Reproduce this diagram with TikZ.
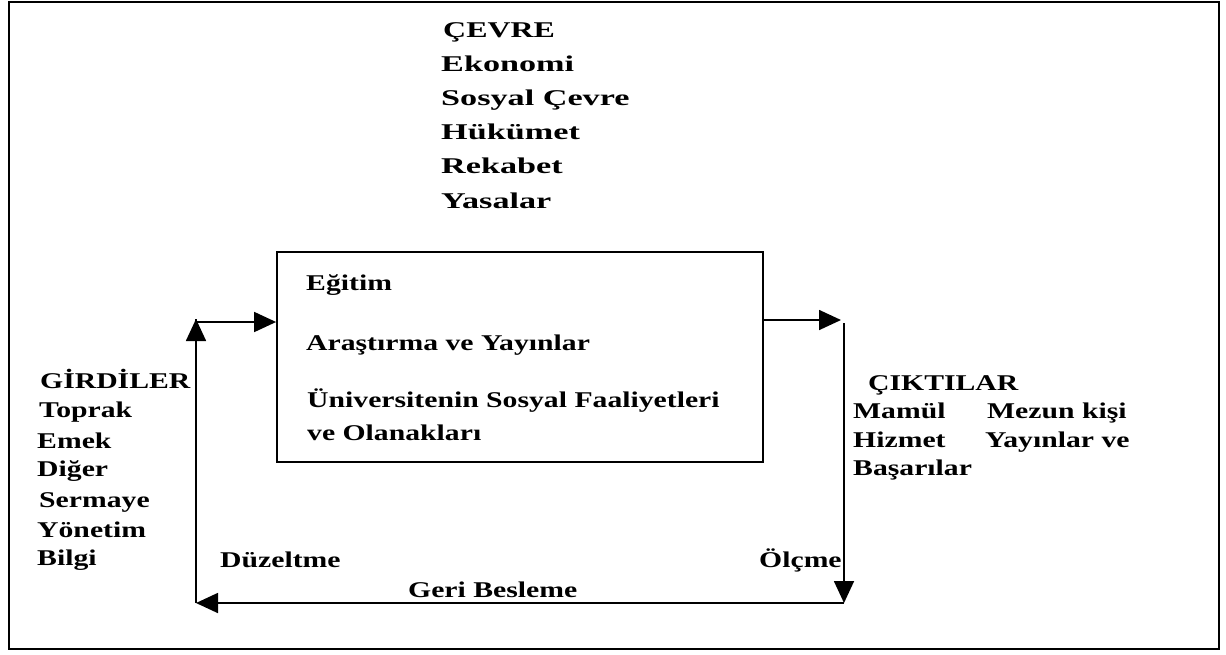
\documentclass[tikz,border=0pt]{standalone}
\usepackage{fontspec}
\usetikzlibrary{arrows.meta}
% Bold serif faces, widened to the look of the labels
\newfontfamily\lblfont{Liberation Serif}[FakeStretch=1.32]
\newfontfamily\envfont{Liberation Serif}[FakeStretch=1.52]
\newfontfamily\envtitlefont{Liberation Serif}[FakeStretch=1.42]

\begin{document}
\begin{tikzpicture}[x=1pt,y=-1pt,
  txt/.style={anchor=base west, inner sep=0pt, text=black,
    font=\lblfont\bfseries\fontsize{22.5}{27}\selectfont},
  envtxt/.style={txt, font=\envfont\bfseries\fontsize{22.5}{27}\selectfont},
  envtitle/.style={txt, font=\envtitlefont\bfseries\fontsize{22.5}{27}\selectfont},
  conn/.style={draw=black, line width=1.7pt,
    -{Triangle[length=22pt,width=20pt]}},
  outerframe/.style={draw=black, line width=2.6pt, fill=white},
  systembox/.style={draw=black, line width=1.8pt, inner sep=0pt,
    minimum width=486pt, minimum height=210pt}
]
\useasboundingbox (0,0) rectangle (1226,654);
\fill[white] (0,0) rectangle (1226,654);
\draw[outerframe] (9,2) rectangle (1219,649);

% Environment list
\node[envtitle] (cv0) at (443,37) {ÇEVRE};
\foreach \t [count=\i] in {Ekonomi, Sosyal Çevre, Hükümet, Rekabet, Yasalar}
  \node[envtxt] (cv\i) at (441,{37+34.2*\i}) {\t};

% The system
\node[systembox] (box) at (520,357) {};
\node[txt] (s1) at (306,290) {Eğitim};
\node[txt] (s2) at (306,350) {Araştırma ve Yayınlar};
\node[txt] (s3) at (307,407) {Üniversitenin Sosyal Faaliyetleri};
\node[txt] (s4) at (307,440) {ve Olanakları};

% Inputs
\node[txt] (in0) at (40,388) {GİRDİLER};
\node[txt] (in1) at (39,417) {Toprak};
\node[txt] (in2) at (37,448) {Emek};
\node[txt] (in3) at (37,476) {Diğer};
\node[txt] (in4) at (39,507) {Sermaye};
\node[txt] (in5) at (37,537) {Yönetim};
\node[txt] (in6) at (37,565) {Bilgi};

% Outputs
\node[txt] (out0) at (868,390) {ÇIKTILAR};
\node[txt] (out1) at (853,418) {Mamül};
\node[txt] (out2) at (853,447) {Hizmet};
\node[txt] (out3) at (853,475) {Başarılar};
\node[txt] (out4) at (987,418) {Mezun kişi};
\node[txt] (out5) at (985,447) {Yayınlar ve};

% Feedback labels
\node[txt] (fixlbl) at (220,567) {Düzeltme};
\node[txt] (measlbl) at (759,567) {Ölçme};
\node[txt] (fblbl) at (408,597) {Geri Besleme};

% Loop corners
\coordinate (inL) at (196,322);
\coordinate (outR) at (844,320);
\coordinate (fbR) at (844,603);
\coordinate (fbL) at (196,603);

\draw[conn] (inL) -- (box.west |- inL);
\draw[conn, shorten >=3pt] (box.east |- outR) -- (outR);
\draw[conn] ([yshift=-3pt]outR) -- (fbR);
\draw[conn] (fbR) -- (fbL);
\draw[conn] (fbL) -- ([yshift=3pt]inL);
\draw[draw=black, line width=1.7pt] ([yshift=3pt]inL) -- (inL);
\end{tikzpicture}
\end{document}
